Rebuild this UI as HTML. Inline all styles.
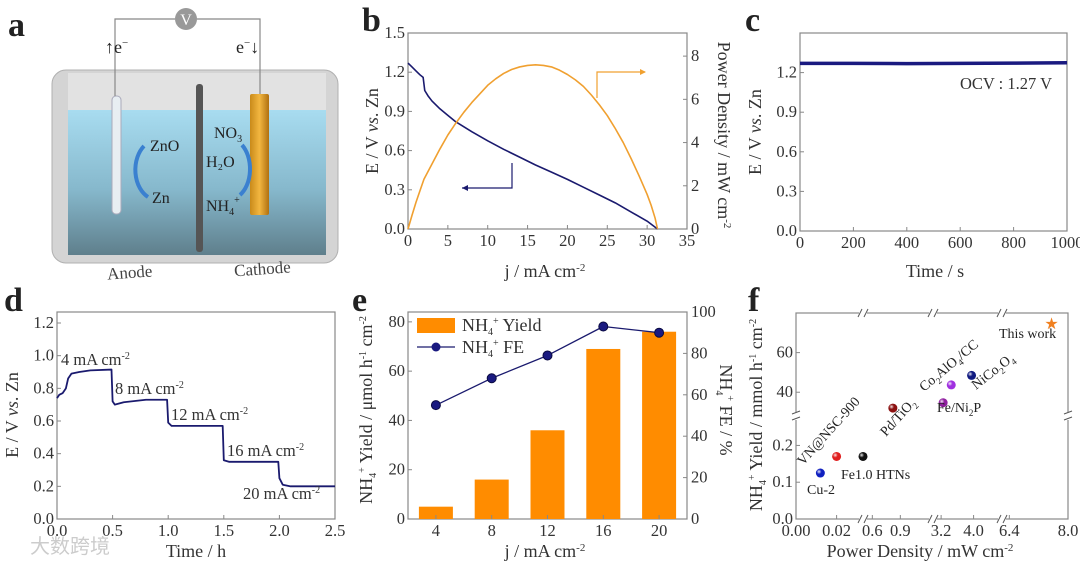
<!DOCTYPE html>
<html><head><meta charset="utf-8"><style>
html,body{margin:0;padding:0;background:#fff}
svg{display:block;font-family:"Liberation Serif",serif}
.tk{font-size:16.5px;fill:#333}
.tt{font-size:18px;fill:#333}
.pl{font-size:34px;font-weight:bold;fill:#222}
</style></head><body>
<svg id="fig" width="1080" height="565" viewBox="0 0 1080 565" xmlns="http://www.w3.org/2000/svg">
<defs>
<linearGradient id="water" x1="0" y1="0" x2="0" y2="1"><stop offset="0" stop-color="#a8dcf0"/><stop offset="0.55" stop-color="#86b8cc"/><stop offset="1" stop-color="#5f7f8c"/></linearGradient>
<linearGradient id="cath" x1="0" y1="0" x2="1" y2="0"><stop offset="0" stop-color="#c98a1a"/><stop offset="0.5" stop-color="#f2b640"/><stop offset="1" stop-color="#b07010"/></linearGradient>
<radialGradient id="ball" cx="0.35" cy="0.35" r="0.7"><stop offset="0" stop-color="#fff" stop-opacity="0.9"/><stop offset="0.4" stop-color="#fff" stop-opacity="0"/></radialGradient>
</defs>
<g>
<text class="pl" x="8" y="36">a</text>
<rect x="52" y="70" width="286" height="193" rx="14" fill="#d4d4d4" stroke="#b0b0b0"/>
<rect x="68" y="73" width="258" height="182" fill="#e2e2e2"/>
<rect x="68" y="110" width="258" height="145" fill="url(#water)"/>
<rect x="196" y="84" width="7" height="168" rx="3" fill="#555"/>
<rect x="112" y="96" width="9" height="118" rx="4" fill="#e8eef2" stroke="#aab"/>
<rect x="250" y="94" width="19" height="121" rx="2" fill="url(#cath)"/>
<polyline points="115,96 115,19 175,19" fill="none" stroke="#888" stroke-width="1.2"/>
<polyline points="197,19 260,19 260,94" fill="none" stroke="#888" stroke-width="1.2"/>
<circle cx="186" cy="19" r="11" fill="#999"/>
<text x="186" y="25" text-anchor="middle" font-size="16" fill="#fff">V</text>
<text x="105" y="53" font-size="18" fill="#222">↑e<tspan dy="-7" font-size="11">−</tspan></text>
<text x="236" y="53" font-size="18" fill="#222">e<tspan dy="-7" font-size="11">−</tspan><tspan dy="7">↓</tspan></text>
<path d="M148,197 A22,30 0 0 1 144,146" fill="none" stroke="#3a80d0" stroke-width="4"/>
<path d="M242,145 A20,30 0 0 1 240,195" fill="none" stroke="#3a80d0" stroke-width="4"/>
<text x="150" y="151" font-size="16" fill="#222">ZnO</text>
<text x="152" y="203" font-size="16" fill="#222">Zn</text>
<text x="214" y="138" font-size="16" fill="#222">NO<tspan dy="4" font-size="10">3</tspan></text>
<text x="206" y="167" font-size="16" fill="#222">H₂O</text>
<text x="206" y="211" font-size="16" fill="#222">NH<tspan dy="4" font-size="10">4</tspan><tspan dy="-12" font-size="10">+</tspan></text>
<text x="107" y="278" font-size="17" fill="#444" transform="rotate(-4 130 272)">Anode</text>
<text x="234" y="274" font-size="17" fill="#444" transform="rotate(-4 268 268)">Cathode</text>
</g>
<text class="pl" x="362" y="31">b</text>
<text class="pl" x="745" y="31">c</text>
<text class="pl" x="4" y="311">d</text>
<text class="pl" x="352" y="311">e</text>
<text class="pl" x="748" y="311">f</text>
<text x="30" y="553" font-size="20" fill="#ccc">大数跨境</text>
<g id="plots"></g>
</svg>
<script>
// ---- Panel b data
const bJ = [0,0.5,1,1.5,1.9,2.1,2.5,3,4,5,6,8,10,12,14,16,18,20,22,24,26,28,30,31.3];
const bE = [1.27,1.24,1.21,1.18,1.16,1.06,1.02,0.98,0.92,0.87,0.82,0.745,0.675,0.61,0.55,0.49,0.435,0.38,0.32,0.26,0.2,0.13,0.06,0.0];
const bPJ = [0,0.5,1,1.5,2,3,4,5,6,7,8,9,10,11,12,13,14,15,16,17,18,19,20,21,22,23,24,25,26,27,28,29,30,30.5,31,31.3];
const bP = [0,0.63,1.23,1.77,2.3,3.0,3.7,4.35,4.9,5.4,5.85,6.25,6.65,6.95,7.2,7.38,7.5,7.57,7.6,7.57,7.5,7.35,7.15,6.9,6.6,6.2,5.75,5.25,4.65,4.0,3.25,2.45,1.6,1.1,0.5,0];
const bXTicks = [0,5,10,15,20,25,30,35];
const bYTicks = [0,0.3,0.6,0.9,1.2,1.5];
const bY2Ticks = [0,2,4,6,8];
// ---- Panel c data
const cT = [0,200,400,600,800,1000];
const cE = [1.27,1.27,1.268,1.27,1.272,1.275];
const cXTicks = [0,200,400,600,800,1000];
const cYTicks = [0,0.3,0.6,0.9,1.2];
// ---- Panel d data
const dT = [0,0.02,0.05,0.08,0.1,0.13,0.2,0.3,0.49,0.5,0.52,0.6,0.8,0.99,1.0,1.03,1.1,1.49,1.5,1.55,1.99,2.0,2.03,2.1,2.5];
const dE = [0.74,0.76,0.77,0.8,0.86,0.89,0.9,0.91,0.915,0.72,0.70,0.715,0.73,0.73,0.59,0.57,0.57,0.57,0.36,0.35,0.35,0.25,0.21,0.20,0.20];
const dXTicks = [0,0.5,1.0,1.5,2.0,2.5];
const dYTicks = [0,0.2,0.4,0.6,0.8,1.0,1.2];
const dLabels = ["4 mA cm","8 mA cm","12 mA cm","16 mA cm","20 mA cm"];
// ---- Panel e data
const eCats = ["4","8","12","16","20"];
const eYield = [5,16,36,69,76];
const eFE = [55,68,79,93,90];
const eYTicks = [0,20,40,60,80];
const eY2Ticks = [0,20,40,60,80,100];
// ---- Panel f data
const fNames = ["Cu-2","VN@NSC-900","Fe1.0 HTNs","Pd/TiO2","Fe/Ni2P","Co2AlO4/CC","NiCo2O4","This work"];
const fPower = [0.012,0.02,0.034,0.82,3.25,3.45,3.95,7.55];
const fYield = [0.125,0.17,0.17,32,34.7,43.7,48.5,75];
const fColors = ["#1020c0","#e02020","#111","#8b1010","#9020a0","#a030e0","#101a80","#f08020"];
const fXTicks = [0,0.02,0.6,0.9,3.2,4.0,6.4,8.0];
const fXTickLabels = ["0.00","0.02","0.6","0.9","3.2","4.0","6.4","8.0"];
const fYTicks = [0,0.1,0.2,40,60];

const NS="http://www.w3.org/2000/svg";
const root=document.getElementById('plots');
function mk(tag,attrs,parent){const e=document.createElementNS(NS,tag);for(const k in attrs)e.setAttribute(k,attrs[k]);(parent||root).appendChild(e);return e;}
function lin(d0,d1,r0,r1){return v=>r0+(v-d0)*(r1-r0)/(d1-d0);}
function pw(dom,rng){return v=>{for(let i=0;i<dom.length-1;i++){if(v<=dom[i+1]||i===dom.length-2)return rng[i]+(v-dom[i])*(rng[i+1]-rng[i])/(dom[i+1]-dom[i]);}};}
function frame(x0,y0,x1,y1,name){const r=mk('rect',{x:x0,y:y0,width:x1-x0,height:y1-y0,fill:'none',stroke:'#888','stroke-width':1.2});

}
function tickX(xs,vals,labels,y,name){vals.forEach((v,i)=>{mk('line',{x1:xs(v),x2:xs(v),y1:y,y2:y-4,stroke:'#888'});const t=mk('text',{x:xs(v),y:y+17,'text-anchor':'middle',class:'tk'});t.textContent=labels?labels[i]:String(v);

});}
function tickY(ys,vals,labels,x,side,name){vals.forEach((v,i)=>{const dx=side==='l'?4:-4;mk('line',{x1:x,x2:x+dx,y1:ys(v),y2:ys(v),stroke:'#888'});const t=mk('text',{x:side==='l'?x-3:x+4,y:ys(v)+5,'text-anchor':side==='l'?'end':'start',class:'tk'});t.textContent=labels?labels[i]:String(v);

});}
function line(xs,ys,X,Y,color,w,name){const p=mk('polyline',{points:X.map((v,i)=>xs(v)+','+ys(Y[i])).join(' '),fill:'none',stroke:color,'stroke-width':w,'stroke-linejoin':'round'});

return p;}
function title(x,y,html,rot,name){const t=mk('text',{x:x,y:y,'text-anchor':'middle',class:'tt'});if(rot)t.setAttribute('transform','rotate('+rot+' '+x+' '+y+')');t.innerHTML=html;

}
const f1=v=>v.toFixed(1);

// ---- Panel b
{const xs=lin(0,35,408,687),ys=lin(0,1.5,229,33),y2=lin(0,9.07,229,33);
frame(408,33,687,229,'plot-frame-b');
tickX(xs,bXTicks,null,229,'b-x');
tickY(ys,bYTicks,bYTicks.map(f1),408,'l','b-y');
tickY(y2,bY2Ticks,null,687,'r','b-y2');
line(xs,ys,bJ,bE,'#1a1a6e',1.6,'polarization-curve');
line(xs,y2,bPJ,bP,'#f0a030',1.6,'power-density-curve');
mk('polyline',{points:'512,163 512,188 462,188',fill:'none',stroke:'#1a1a6e','stroke-width':1.2});
mk('path',{d:'M462,188 l6,-3 v6z',fill:'#1a1a6e'});
mk('polyline',{points:'597,98 597,72 645,72',fill:'none',stroke:'#f0a030','stroke-width':1.2});
mk('path',{d:'M646,72 l-6,-3 v6z',fill:'#f0a030'});
title(545,277,'j / mA cm<tspan dy="-6" font-size="11">-2</tspan>',0,'b-x-axis-title');
title(378,131,'E / V <tspan font-style="italic">vs</tspan>. Zn',-90,'b-y-axis-title');
title(718,135,'Power Density / mW cm<tspan dy="-6" font-size="11">-2</tspan>',90,'b-y2-axis-title');}

// ---- Panel c
{const xs=lin(0,1000,800,1067),ys=lin(0,1.5,231,33);
frame(800,33,1067,231,'plot-frame-c');
tickX(xs,cXTicks,null,231,'c-x');
tickY(ys,cYTicks,cYTicks.map(f1),800,'l','c-y');
line(xs,ys,cT,cE,'#1a1a80',3.5,'ocv-line');
const t=mk('text',{x:1052,y:89,'text-anchor':'end',class:'tk'});t.textContent='OCV : 1.27 V';


title(935,277,'Time / s',0,'c-x-axis-title');
title(761,132,'E / V <tspan font-style="italic">vs</tspan>. Zn',-90,'c-y-axis-title');}

// ---- Panel d
{const xs=lin(0,2.5,57,335),ys=lin(0,1.2,519,323);
frame(57,312,335,519,'plot-frame-d');
tickX(xs,dXTicks,dXTicks.map(f1),519,'d-x');
tickY(ys,dYTicks,dYTicks.map(f1),57,'l','d-y');
line(xs,ys,dT,dE,'#1a1a6e',1.8,'discharge-curve');
const lp=[[61,365],[115,394],[171,420],[227,456],[243,499]];
dLabels.forEach((s,i)=>{const t=mk('text',{x:lp[i][0],y:lp[i][1],class:'tk'});t.innerHTML=s+'<tspan dy="-6" font-size="10">-2</tspan>';

});
title(196,557,'Time / h',0,'d-x-axis-title');
title(18,415,'E / V <tspan font-style="italic">vs</tspan>. Zn',-90,'d-y-axis-title');}

// ---- Panel e
{const x0=408,x1=687,bw=(x1-x0)/eCats.length,ys=lin(0,84,519,312),y2=lin(0,100,519,312);
const cx=i=>x0+bw*(i+0.5);
frame(x0,312,x1,519,'plot-frame-e');
eCats.forEach((c,i)=>{const b=mk('rect',{x:cx(i)-17,y:ys(eYield[i]),width:34,height:519-ys(eYield[i]),fill:'#ff8c00'});


mk('line',{x1:cx(i),x2:cx(i),y1:519,y2:515,stroke:'#888'});
const t=mk('text',{x:cx(i),y:536,'text-anchor':'middle',class:'tk'});t.textContent=c;

});
tickY(ys,eYTicks,null,x0,'l','e-y');
tickY(y2,eY2Ticks,null,x1,'r','e-y2');
line(cx,y2,eCats.map((c,i)=>i),eFE,'#1a1a6e',1.3,'fe-line');
eFE.forEach((v,i)=>{const c=mk('circle',{cx:cx(i),cy:y2(v),r:4.5,fill:'#1a1a80',stroke:'#0a0a40'});

});
mk('rect',{x:417,y:318,width:38,height:15,fill:'#ff8c00'});
const l1=mk('text',{x:462,y:331,class:'tt'});l1.innerHTML='NH<tspan dy="4" font-size="10">4</tspan><tspan dy="-11" font-size="10">+</tspan><tspan dy="7"> Yield</tspan>';


mk('line',{x1:417,x2:455,y1:347,y2:347,stroke:'#1a1a6e','stroke-width':1.3});
mk('circle',{cx:436,cy:347,r:4.5,fill:'#1a1a80'});
const l2=mk('text',{x:462,y:353,class:'tt'});l2.innerHTML='NH<tspan dy="4" font-size="10">4</tspan><tspan dy="-11" font-size="10">+</tspan><tspan dy="7"> FE</tspan>';


title(545,557,'j / mA cm<tspan dy="-6" font-size="11">-2</tspan>',0,'e-x-axis-title');
title(372,410,'NH<tspan dy="4" font-size="10">4</tspan><tspan dy="-11" font-size="10">+</tspan><tspan dy="7"> Yield / μmol h</tspan><tspan dy="-6" font-size="10">-1</tspan><tspan dy="6"> cm</tspan><tspan dy="-6" font-size="10">-2</tspan>',-90,'e-y-axis-title');
title(720,410,'NH<tspan dy="4" font-size="10">4</tspan><tspan dy="-11" font-size="10">+</tspan><tspan dy="7"> FE / %</tspan>',90,'e-y2-axis-title');}

// ---- Panel f (broken axes)
{const xs=pw([0,0.033,0.5,1.25,3.0,4.7,6.2,8.0],[796,863,863,933,933,1002,1002,1068]);
const ys=pw([0,0.28,28,80],[519,416,416,313]);
frame(796,313,1068,519,'plot-frame-f');
tickX(xs,fXTicks,fXTickLabels,519,'f-x');
tickY(ys,fYTicks,fYTicks.map((v,i)=>i<3?f1(v):String(v)),796,'l','f-y');
[863,933,1002].forEach(x=>{[313,519].forEach(y=>{mk('rect',{x:x-4,y:y-3,width:8,height:6,fill:'#fff'});mk('line',{x1:x-5,x2:x-1,y1:y+4,y2:y-4,stroke:'#555'});mk('line',{x1:x+1,x2:x+5,y1:y+4,y2:y-4,stroke:'#555'});});});
[796,1068].forEach(x=>{mk('rect',{x:x-3,y:412,width:6,height:8,fill:'#fff'});mk('line',{x1:x-4,x2:x+4,y1:414,y2:411,stroke:'#555'});mk('line',{x1:x-4,x2:x+4,y1:420,y2:417,stroke:'#555'});});
fPower.forEach((p,i)=>{let m;
if(i===fPower.length-1){m=mk('text',{x:xs(p),y:ys(fYield[i])+6,'text-anchor':'middle','font-size':'16',fill:fColors[i]});m.textContent='★';}
else{m=mk('circle',{cx:xs(p),cy:ys(fYield[i]),r:4.5,fill:fColors[i]});mk('circle',{cx:xs(p),cy:ys(fYield[i]),r:4.5,fill:'url(#ball)'});}

});
const lab=[[807,494,0,'Cu-2'],[803,466,-48,'VN@NSC-900'],[841,479,0,'Fe1.0 HTNs'],[886,437,-48,'Pd/TiO<tspan dy="4" font-size="9">2</tspan>'],[937,412,0,'Fe/Ni<tspan dy="4" font-size="9">2</tspan><tspan dy="-4">P</tspan>'],[924,392,-40,'Co<tspan dy="4" font-size="9">2</tspan><tspan dy="-4">AlO</tspan><tspan dy="4" font-size="9">4</tspan><tspan dy="-4">/CC</tspan>'],[976,390,-38,'NiCo<tspan dy="4" font-size="9">2</tspan><tspan dy="-4">O</tspan><tspan dy="4" font-size="9">4</tspan>'],[999,338,0,'This work']];
lab.forEach(l=>{const t=mk('text',{x:l[0],y:l[1],'font-size':'14',fill:'#222'});if(l[2])t.setAttribute('transform','rotate('+l[2]+' '+l[0]+' '+l[1]+')');t.innerHTML=l[3];

});
title(920,557,'Power Density / mW cm<tspan dy="-6" font-size="11">-2</tspan>',0,'f-x-axis-title');
title(762,415,'NH<tspan dy="4" font-size="10">4</tspan><tspan dy="-11" font-size="10">+</tspan><tspan dy="7"> Yield / mmol h</tspan><tspan dy="-6" font-size="10">-1</tspan><tspan dy="6"> cm</tspan><tspan dy="-6" font-size="10">-2</tspan>',-90,'f-y-axis-title');}
</script>
</body></html>
